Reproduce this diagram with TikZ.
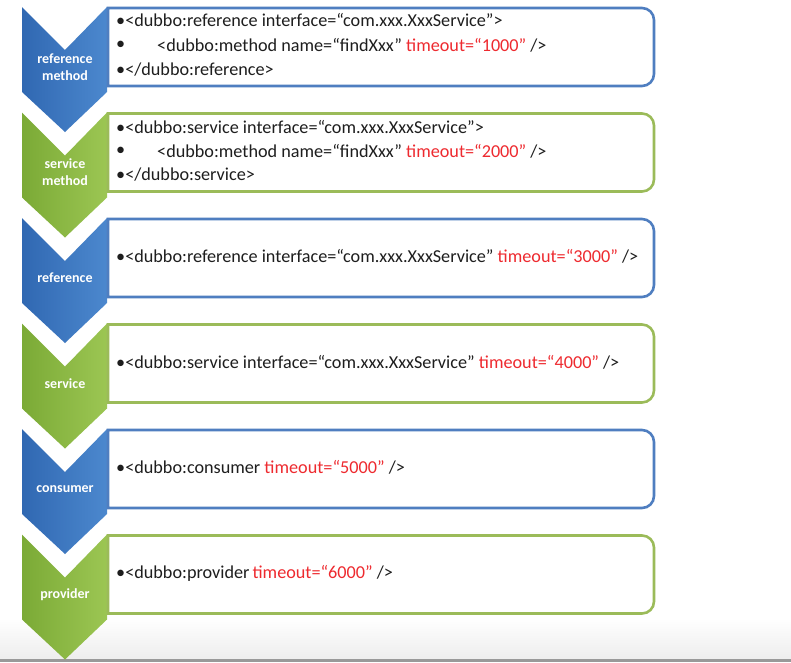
\documentclass[tikz,border=0pt]{standalone}
\usepackage{fontspec}
\setmainfont{Carlito}
\definecolor{bL}{HTML}{3068B2}
\definecolor{bR}{HTML}{4C88CE}
\definecolor{gL}{HTML}{7BAA36}
\definecolor{gR}{HTML}{9CC653}
\definecolor{bB}{HTML}{4F7EC0}
\definecolor{gB}{HTML}{9BBB59}
\definecolor{rd}{HTML}{EE2A2F}
\definecolor{tx}{HTML}{1E1E1E}
\newcommand{\chevpath}[1]{(22,#1) -- (65,#1+43) -- (107,#1) -- (107,#1+85) -- (65,#1+125) -- (22,#1+85) -- cycle}
\newcommand{\boxpath}[1]{(108,#1+1) -- (130,#1+1) [rounded corners=12pt] -- (654,#1+1) -- (654,#1+79) -- (130,#1+79) [sharp corners] -- (108,#1+79) -- cycle}
\tikzset{
  lbl/.style={text=white,font=\fontsize{14}{17}\selectfont\bfseries,align=center,inner sep=0pt},
  code/.style={text=tx,font=\fontsize{18.2}{21}\selectfont,anchor=west,inner sep=0pt},
  bluebox/.style={draw=bB,line width=2.6pt,fill=white},
  greenbox/.style={draw=gB,line width=2.6pt,fill=white},
}
\newcommand{\red}[1]{\textcolor{rd}{#1}}
\begin{document}
\begin{tikzpicture}[x=1pt,y=-1pt]
\useasboundingbox (0,0) rectangle (791,662);
\fill[white] (0,0) rectangle (791,662);
\shade[top color=white,bottom color=black!7] (0,618) rectangle (791,659);
\fill[black!40] (0,659) rectangle (791,662);
% 1 reference method
\shade[left color=bL,right color=bR] \chevpath{7};
\draw[bluebox] \boxpath{7};
\node[lbl] (c1) at (65,67) {reference\\method};
\node[code] (t1a) at (116,20) {•<dubbo:reference interface=“com.xxx.XxxService”>};
\node[code] (t1b) at (116,45) {•};
\node[code] (t1c) at (157,45) {<dubbo:method name=“findXxx” \red{timeout=“1000”} />};
\node[code] (t1d) at (116,70) {•</dubbo:reference>};
% 2 service method
\shade[left color=gL,right color=gR] \chevpath{112.5};
\draw[greenbox] \boxpath{112.5};
\node[lbl] (c2) at (65,172.5) {service\\method};
\node[code] (t2a) at (116,127) {•<dubbo:service interface=“com.xxx.XxxService”>};
\node[code] (t2b) at (116,151) {•};
\node[code] (t2c) at (157,151) {<dubbo:method name=“findXxx” \red{timeout=“2000”} />};
\node[code] (t2d) at (116,175) {•</dubbo:service>};
% 3 reference
\shade[left color=bL,right color=bR] \chevpath{218};
\draw[bluebox] \boxpath{218};
\node[lbl] (c3) at (65,278) {reference};
\node[code] (t3) at (116,256) {•<dubbo:reference interface=“com.xxx.XxxService” \red{timeout=“3000”} />};
% 4 service
\shade[left color=gL,right color=gR] \chevpath{323.5};
\draw[greenbox] \boxpath{323.5};
\node[lbl] (c4) at (65,383.5) {service};
\node[code] (t4) at (116,362) {•<dubbo:service interface=“com.xxx.XxxService” \red{timeout=“4000”} />};
% 5 consumer
\shade[left color=bL,right color=bR] \chevpath{429};
\draw[bluebox] \boxpath{429};
\node[lbl] (c5) at (65,489) {consumer};
\node[code] (t5) at (116,467) {•<dubbo:consumer \red{timeout=“5000”} />};
% 6 provider
\shade[left color=gL,right color=gR] \chevpath{534.5};
\draw[greenbox] \boxpath{534.5};
\node[lbl] (c6) at (65,594.5) {provider};
\node[code] (t6) at (116,573) {•<dubbo:provider\,\red{timeout=“6000”} />};
\end{tikzpicture}
\end{document}
